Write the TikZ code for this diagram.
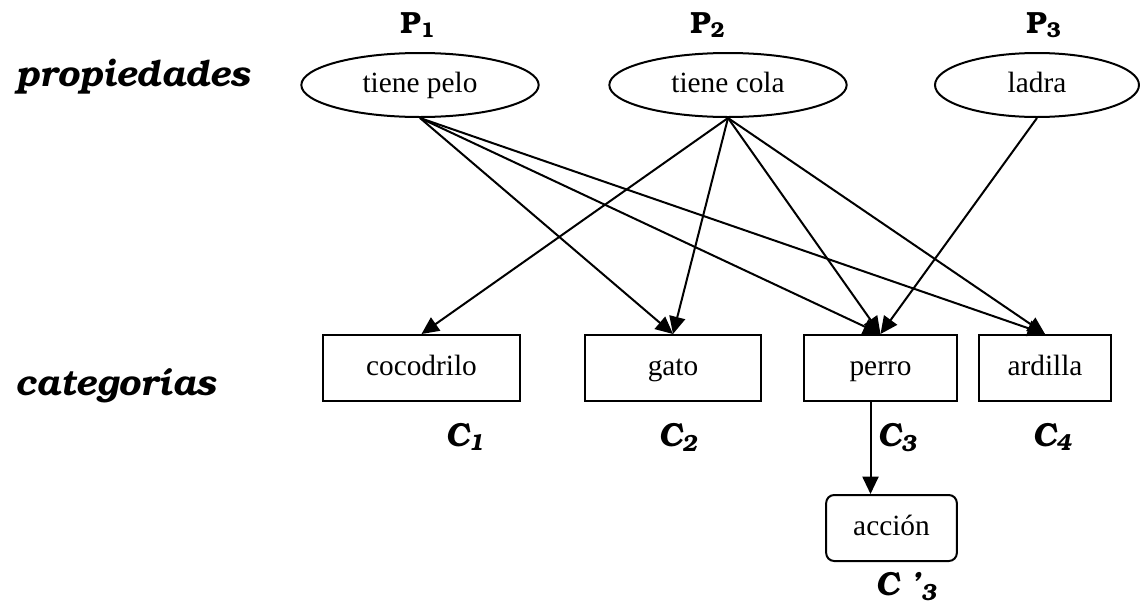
\documentclass[tikz,border=0pt]{standalone}
\usepackage[T1]{fontenc}
\usepackage{fontspec}
\setmainfont{Liberation Serif}
\usepackage{tikz}
\usetikzlibrary{positioning,shapes.geometric,arrows.meta,calc}
\newcommand{\bkfont}{\fontencoding{T1}\fontfamily{pbk}\selectfont}

\begin{document}
\begin{tikzpicture}[x=0.75pt,y=-0.75pt,
    prop/.style={ellipse, draw, line width=1.5pt, minimum width=178pt, minimum height=48pt, inner sep=0pt, text height=15pt, text depth=4.5pt, font=\fontsize{22}{26}\selectfont},
    cat/.style={rectangle, draw, line width=1.5pt, minimum height=49.5pt, inner sep=0pt, text height=15pt, text depth=4.5pt, font=\fontsize{22}{26}\selectfont},
    lbl/.style={font=\bkfont\bfseries\itshape\fontsize{27}{31}\selectfont, inner sep=0pt, anchor=base west},
    clbl/.style={font=\bkfont\bfseries\itshape\fontsize{25}{29}\selectfont, inner sep=0pt, anchor=base west},
    plbl/.style={font=\bkfont\bfseries\fontsize{23}{27}\selectfont, inner sep=0pt, anchor=base},
    arr/.style={-{Triangle[length=13pt,width=12pt]}, line width=1.5pt}]
    \useasboundingbox (0,0) rectangle (1140,604);

    % propiedades
    \node[lbl] (lprop) at (15,86) {propiedades};
    \node[plbl] (p1) at (418,33) {P\textsubscript{1}};
    \node[plbl] (p2) at (708,33) {P\textsubscript{2}};
    \node[plbl] (p3) at (1044,33) {P\textsubscript{3}};
    \node[prop] (pelo) at (420,85) {tiene pelo};
    \node[prop] (cola) at (728,85) {tiene cola};
    \node[prop, minimum width=153pt] (ladra) at (1037,85) {ladra};

    % categorias
    \node[lbl] (lcat) at (15,395) {categor\'{\i}as};
    \node[cat, minimum width=148pt] (cocodrilo) at (421.5,368) {cocodrilo};
    \node[cat, minimum width=132pt] (gato) at (673,368) {gato};
    \node[cat, minimum width=115pt] (perro) at (880.5,368) {perro};
    \node[cat, minimum width=99pt] (ardilla) at (1045,368) {ardilla};
    \node[cat, rounded corners=6pt, minimum width=98pt] (accion) at (891.5,528) {acci\'on};

    \node[clbl] (c1) at (445,446) {C\textsubscript{1}};
    \node[clbl] (c2) at (658,446) {C\textsubscript{2}};
    \node[clbl] (c3) at (877,446) {C\textsubscript{3}};
    \node[clbl] (c4) at (1032,446) {C\textsubscript{4}};
    \node[clbl] (c3b) at (875,595) {C '\textsubscript{3}};

    % arcos
    \draw[arr] (pelo.south) -- (gato.north);
    \draw[arr] (pelo.south) -- (perro.north);
    \draw[arr] (pelo.south) -- (ardilla.north);
    \draw[arr] (cola.south) -- (cocodrilo.north);
    \draw[arr] (cola.south) -- (gato.north);
    \draw[arr] (cola.south) -- (perro.north);
    \draw[arr] (cola.south) -- (ardilla.north);
    \draw[arr] (ladra.south) -- (perro.north);

    \coordinate (baja) at ($(perro.south)+(-10,0)$);
    \draw[arr] (baja) -- (baja |- accion.north);
\end{tikzpicture}
\end{document}
